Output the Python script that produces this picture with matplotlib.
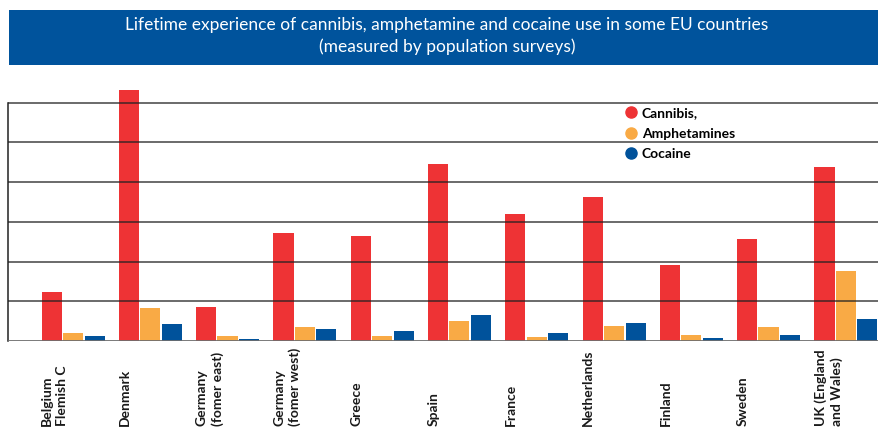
import matplotlib
matplotlib.use("Agg")
import matplotlib.pyplot as plt
import matplotlib.transforms as mtransforms
from matplotlib.lines import Line2D
from matplotlib.patches import Rectangle
import numpy as np

# Lifetime prevalence (% of population) by country
countries = ["Belgium\nFlemish C", "Denmark", "Germany\n(fomer east)", "Germany\n(fomer west)",
             "Greece", "Spain", "France", "Netherlands", "Finland", "Sweden",
             "UK (England\nand Wales)"]
cannabis = [6.2, 31.6, 4.3, 13.6, 13.2, 22.3, 16.0, 18.1, 9.6, 12.8, 21.9]
amphetamines = [1.0, 4.2, 0.6, 1.8, 0.6, 2.5, 0.5, 1.9, 0.75, 1.8, 8.8]
cocaine = [0.6, 2.1, 0.3, 1.5, 1.3, 3.3, 1.0, 2.3, 0.4, 0.75, 2.8]
series_names = ["Cannibis,", "Amphetamines", "Cocaine"]
title_text = ("Lifetime experience of cannibis, amphetamine and cocaine use in some EU countries\n"
              "(measured by population surveys)")

RED = "#EE3335"
ORANGE = "#F9AA45"
BLUE = "#00529B"
BANNER = "#00539C"

font_main = ["Lato", "DejaVu Sans"]

fig = plt.figure(figsize=(8.79, 4.30), dpi=100)
W, H = 879, 430

# title banner
fig.patches.append(Rectangle((9 / W, 1 - 65 / H), 1 - 9 / W, 55 / H,
                             transform=fig.transFigure, facecolor=BANNER,
                             edgecolor="none", zorder=0))
fig.text(447 / W, 1 - 36 / H, title_text, color="white",
         ha="center", va="center", fontsize=12.5, family=font_main,
         linespacing=1.45)

ax = fig.add_axes([8 / W, (H - 341) / H, 871 / W, 254.4 / H])
x = np.arange(len(countries))
bw = 0.26
ax.bar(x - 0.275, cannabis, bw, color=RED, zorder=2)
ax.bar(x, amphetamines, bw, color=ORANGE, zorder=2)
ax.bar(x + 0.28, cocaine, bw, color=BLUE, zorder=2)

ax.set_xlim(-0.84, 10.43)
ax.set_ylim(0, 32)

for y in range(5, 31, 5):
    ax.axhline(y, color="#222222", lw=1.1, alpha=0.85, zorder=3)
ax.axhline(0, color="#6e6e6e", lw=2.0, zorder=3)

for s in ["top", "right", "bottom"]:
    ax.spines[s].set_visible(False)
ax.spines["left"].set_bounds(0, 30)
ax.spines["left"].set_color("#222222")
ax.spines["left"].set_linewidth(1.1)
ax.set_xticks([])
ax.set_yticks([])

# rotated country labels, starting from a common baseline
trans = mtransforms.blended_transform_factory(ax.transData, fig.transFigure)
for xi, name in zip(x, countries):
    ax.text(xi - 0.41, 1 - 426 / H, name, rotation=90, ha="left", va="bottom",
            transform=trans, fontsize=10, fontweight="bold", family=font_main,
            color="#1a1a1a", linespacing=1.3, clip_on=False)

handles = [Line2D([], [], marker="o", ls="none", markersize=8, color=c)
           for c in (RED, ORANGE, BLUE)]
fig.legend(handles, series_names, loc="upper left",
           bbox_to_anchor=(626 / W, 1 - 107 / H), frameon=False,
           handlelength=0.7, handletextpad=0.45, labelspacing=0.62,
           borderaxespad=0, borderpad=0,
           prop={"family": font_main, "weight": "bold", "size": 10})

fig.savefig("out.png", dpi=100)
